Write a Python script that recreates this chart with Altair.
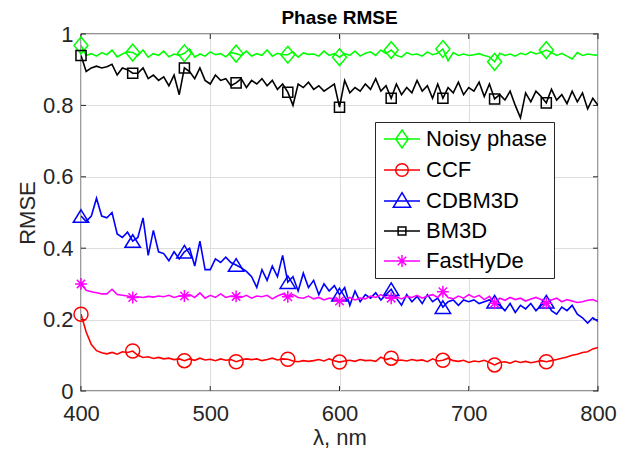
import altair as alt
import pandas as pd

# wavelength grid (nm)
nm = list(range(400, 801, 4))

noisy = [0.968, 0.940, 0.945, 0.938, 0.948, 0.942, 0.955, 0.936, 0.944, 0.950,
         0.948, 0.940, 0.955, 0.935, 0.945, 0.940, 0.952, 0.936, 0.944, 0.940,
         0.946, 0.958, 0.935, 0.944, 0.938, 0.950, 0.942, 0.945, 0.936, 0.948,
         0.945, 0.940, 0.952, 0.938, 0.945, 0.940, 0.955, 0.938, 0.946, 0.942,
         0.942, 0.950, 0.935, 0.947, 0.943, 0.944, 0.938, 0.952, 0.940, 0.945,
         0.935, 0.945, 0.940, 0.952, 0.938, 0.946, 0.950, 0.940, 0.955, 0.945,
         0.955, 0.940, 0.935, 0.948, 0.942, 0.944, 0.938, 0.950, 0.942, 0.946,
         0.958, 0.925, 0.948, 0.940, 0.944, 0.940, 0.942, 0.945, 0.940, 0.936,
         0.922, 0.946, 0.940, 0.944, 0.938, 0.946, 0.942, 0.950, 0.944, 0.948,
         0.955, 0.948, 0.940, 0.946, 0.938, 0.930, 0.948, 0.940, 0.944, 0.942,
         0.940]

ccf = [0.215, 0.165, 0.130, 0.113, 0.107, 0.104, 0.108, 0.103, 0.110, 0.108,
       0.112, 0.100, 0.094, 0.096, 0.091, 0.094, 0.090, 0.092, 0.088, 0.090,
       0.085, 0.090, 0.086, 0.092, 0.087, 0.089, 0.085, 0.090, 0.086, 0.088,
       0.082, 0.087, 0.090, 0.088, 0.090, 0.085, 0.088, 0.092, 0.087, 0.090,
       0.089, 0.084, 0.082, 0.085, 0.083, 0.085, 0.088, 0.084, 0.090, 0.085,
       0.081, 0.084, 0.086, 0.083, 0.088, 0.085, 0.086, 0.083, 0.095, 0.088,
       0.092, 0.085, 0.087, 0.084, 0.088, 0.085, 0.087, 0.082, 0.090, 0.084,
       0.086, 0.092, 0.085, 0.083, 0.086, 0.080, 0.084, 0.082, 0.086, 0.080,
       0.073, 0.080, 0.082, 0.078, 0.084, 0.080, 0.083, 0.079, 0.082, 0.085,
       0.082, 0.085, 0.088, 0.092, 0.095, 0.100, 0.103, 0.108, 0.110, 0.118,
       0.122]

cdbm3d = [0.490, 0.475, 0.490, 0.540, 0.490, 0.485, 0.500, 0.440, 0.430, 0.445,
          0.420, 0.430, 0.485, 0.380, 0.450, 0.390, 0.385, 0.365, 0.390, 0.370,
          0.390, 0.400, 0.350, 0.420, 0.340, 0.340, 0.370, 0.360, 0.375, 0.360,
          0.353, 0.345, 0.335, 0.320, 0.290, 0.340, 0.310, 0.350, 0.320, 0.380,
          0.305, 0.320, 0.280, 0.330, 0.290, 0.310, 0.270, 0.300, 0.280, 0.295,
          0.270, 0.290, 0.240, 0.280, 0.250, 0.270, 0.260, 0.275, 0.255, 0.270,
          0.285, 0.260, 0.240, 0.270, 0.250, 0.265, 0.245, 0.270, 0.250, 0.260,
          0.235, 0.250, 0.255, 0.240, 0.255, 0.250, 0.255, 0.245, 0.250, 0.255,
          0.250, 0.240, 0.225, 0.245, 0.220, 0.240, 0.230, 0.245, 0.225, 0.240,
          0.250, 0.225, 0.215, 0.235, 0.225, 0.240, 0.215, 0.205, 0.190, 0.205,
          0.195]

bm3d = [0.940, 0.895, 0.905, 0.910, 0.905, 0.908, 0.915, 0.885, 0.905, 0.900,
        0.890, 0.890, 0.905, 0.875, 0.885, 0.870, 0.880, 0.855, 0.885, 0.830,
        0.905, 0.895, 0.875, 0.905, 0.870, 0.860, 0.885, 0.870, 0.875, 0.855,
        0.863, 0.875, 0.850, 0.870, 0.860, 0.875, 0.855, 0.870, 0.845, 0.860,
        0.837, 0.800, 0.860, 0.850, 0.865, 0.845, 0.855, 0.840, 0.850, 0.860,
        0.795, 0.870, 0.835, 0.850, 0.840, 0.860, 0.845, 0.875, 0.840, 0.855,
        0.820, 0.860, 0.830, 0.850, 0.835, 0.870, 0.840, 0.855, 0.820, 0.860,
        0.820, 0.850, 0.835, 0.865, 0.830, 0.850, 0.840, 0.865, 0.825, 0.860,
        0.818, 0.830, 0.815, 0.840, 0.800, 0.765, 0.835, 0.810, 0.840, 0.825,
        0.807, 0.845, 0.815, 0.830, 0.805, 0.840, 0.810, 0.835, 0.790, 0.820,
        0.800]

fasthyde = [0.300, 0.282, 0.278, 0.275, 0.272, 0.272, 0.285, 0.270, 0.268, 0.266,
            0.262, 0.264, 0.262, 0.265, 0.263, 0.266, 0.264, 0.268, 0.262, 0.266,
            0.266, 0.270, 0.262, 0.275, 0.260, 0.268, 0.262, 0.272, 0.262, 0.266,
            0.265, 0.262, 0.268, 0.260, 0.266, 0.264, 0.268, 0.258, 0.266, 0.272,
            0.264, 0.270, 0.262, 0.260, 0.266, 0.258, 0.262, 0.255, 0.260, 0.258,
            0.252, 0.256, 0.262, 0.255, 0.260, 0.258, 0.266, 0.262, 0.270, 0.262,
            0.260, 0.264, 0.258, 0.265, 0.262, 0.268, 0.260, 0.266, 0.270, 0.262,
            0.278, 0.262, 0.258, 0.266, 0.260, 0.270, 0.262, 0.268, 0.256, 0.265,
            0.246, 0.260, 0.254, 0.262, 0.256, 0.260, 0.252, 0.258, 0.262, 0.256,
            0.246, 0.255, 0.260, 0.250, 0.256, 0.252, 0.248, 0.250, 0.254, 0.256,
            0.250]

series_names = ["Noisy phase", "CCF", "CDBM3D", "BM3D", "FastHyDe"]
series_colors = ["#00ff00", "#ff0000", "#0000ff", "#000000", "#ff00ff"]
series_values = [noisy, ccf, cdbm3d, bm3d, fasthyde]

# marker glyphs on the plot (unit box, scaled by sqrt(size)/2)
marker_paths = [
    "M0,-1.2L1,0L0,1.2L-1,0Z",
    "M1,0A1,1,0,1,1,-1,0A1,1,0,1,1,1,0Z",
    "M0,-0.9L1.1,0.9L-1.1,0.9Z",
    "M-0.72,-0.72H0.72V0.72H-0.72Z",
    "M0,-0.85V0.85M-0.85,0H0.85M-0.6,-0.6L0.6,0.6M-0.6,0.6L0.6,-0.6",
]
# legend glyphs: line segment plus marker
legend_paths = [
    "M-3,0H3M0,-1.5L1.05,0L0,1.5L-1.05,0Z",
    "M-3,0H3M1.05,0A1.05,1.05,0,1,1,-1.05,0A1.05,1.05,0,1,1,1.05,0Z",
    "M-3,0H3M0,-1.4L1.45,1.05L-1.45,1.05Z",
    "M-3,0H3M-0.65,-0.65H0.65V0.65H-0.65Z",
    "M-3,0H3M0,-1V1M-1,0H1M-0.7,-0.7L0.7,0.7M-0.7,0.7L0.7,-0.7",
]

x_ticks = [400, 500, 600, 700, 800]
y_ticks = [0, 0.2, 0.4, 0.6, 0.8, 1]

rows = []
for name, vals in zip(series_names, series_values):
    assert len(vals) == len(nm), (name, len(vals))
    for x, v in zip(nm, vals):
        rows.append({"nm": x, "rmse": v, "series": name})
df = pd.DataFrame(rows)
mk = df[(df["nm"] % 40 == 0) & (df["nm"] < 800)]
legend_df = pd.DataFrame({"nm": [1000] * 5, "rmse": [0.5] * 5, "series": series_names})

FONT = "Liberation Sans"
TXT = "#262626"
W, H = 517, 357

x_enc = alt.X("nm:Q", scale=alt.Scale(domain=[400, 800], nice=False, zero=False),
              axis=alt.Axis(values=x_ticks, ticks=False, domain=False, grid=True,
                            gridColor="#dedede", gridWidth=1, labelFont=FONT,
                            labelFontSize=22, labelColor=TXT, labelPadding=12,
                            labelFlush=False, title="λ, nm", titleFont=FONT,
                            titleFontSize=22, titleFontWeight="normal",
                            titleColor=TXT, titlePadding=3))
y_enc = alt.Y("rmse:Q", scale=alt.Scale(domain=[0, 1], nice=False, zero=False),
              axis=alt.Axis(values=y_ticks, ticks=False, domain=False, grid=True,
                            gridColor="#dedede", gridWidth=1, labelFont=FONT,
                            labelFontSize=22, labelColor=TXT, labelPadding=8,
                            labelFlush=False,
                            labelExpr="datum.value == 0 ? '0' : datum.value == 1 ? '1' : format(datum.value, '.1f')",
                            title="RMSE", titleFont=FONT, titleFontSize=22,
                            titleFontWeight="normal", titleColor=TXT, titlePadding=3))

color_scale = alt.Scale(domain=series_names, range=series_colors)

lines = alt.Chart(df).mark_line(strokeWidth=1.6, clip=True).encode(
    x=x_enc, y=y_enc,
    color=alt.Color("series:N", scale=color_scale, legend=None),
)

markers = alt.Chart(mk).mark_point(filled=False, strokeWidth=1.5, size=196, opacity=1).encode(
    x=x_enc, y=y_enc,
    color=alt.Color("series:N", scale=color_scale, legend=None),
    shape=alt.Shape("series:N", scale=alt.Scale(domain=series_names, range=marker_paths), legend=None),
)

leg = alt.Legend(orient="none", legendX=294, legendY=88, title=None,
                 labelFont=FONT, labelFontSize=22, labelColor="#000000",
                 labelLimit=400, padding=6, symbolOffset=10, labelOffset=13,
                 rowPadding=8, strokeColor=TXT, fillColor="white",
                 symbolStrokeWidth=1.5, symbolSize=144, cornerRadius=0)

legend_layer = alt.Chart(legend_df).mark_point(filled=False, strokeWidth=1.5, size=144,
                                               opacity=1, clip=True).encode(
    x=x_enc, y=y_enc,
    color=alt.Color("series:N", scale=color_scale, legend=leg),
    shape=alt.Shape("series:N", scale=alt.Scale(domain=series_names, range=legend_paths), legend=leg),
)

xt = pd.DataFrame({"nm": x_ticks})
yt = pd.DataFrame({"rmse": y_ticks})
tick_bottom = alt.Chart(xt).mark_rule(color=TXT, strokeWidth=1).encode(
    x=x_enc, y=alt.value(H), y2=alt.value(H - 5))
tick_top = alt.Chart(xt).mark_rule(color=TXT, strokeWidth=1).encode(
    x=x_enc, y=alt.value(0), y2=alt.value(5))
tick_left = alt.Chart(yt).mark_rule(color=TXT, strokeWidth=1).encode(
    y=y_enc, x=alt.value(0), x2=alt.value(5))
tick_right = alt.Chart(yt).mark_rule(color=TXT, strokeWidth=1).encode(
    y=y_enc, x=alt.value(W), x2=alt.value(W - 5))

chart = alt.layer(
    tick_bottom, tick_top, tick_left, tick_right, lines, markers, legend_layer
).resolve_scale(
    color="independent", shape="independent"
).properties(
    width=W, height=H,
    title=alt.TitleParams("Phase RMSE", font=FONT, fontSize=19, fontWeight="bold",
                          color="#000000", anchor="middle", offset=-5),
    padding={"left": 73, "top": 26, "right": 20, "bottom": 70},
    autosize=alt.AutoSizeParams(type="none"),
).configure_view(stroke=TXT, strokeWidth=1.3)

chart.save("out.html", embed_options={"renderer": "svg", "actions": False})
